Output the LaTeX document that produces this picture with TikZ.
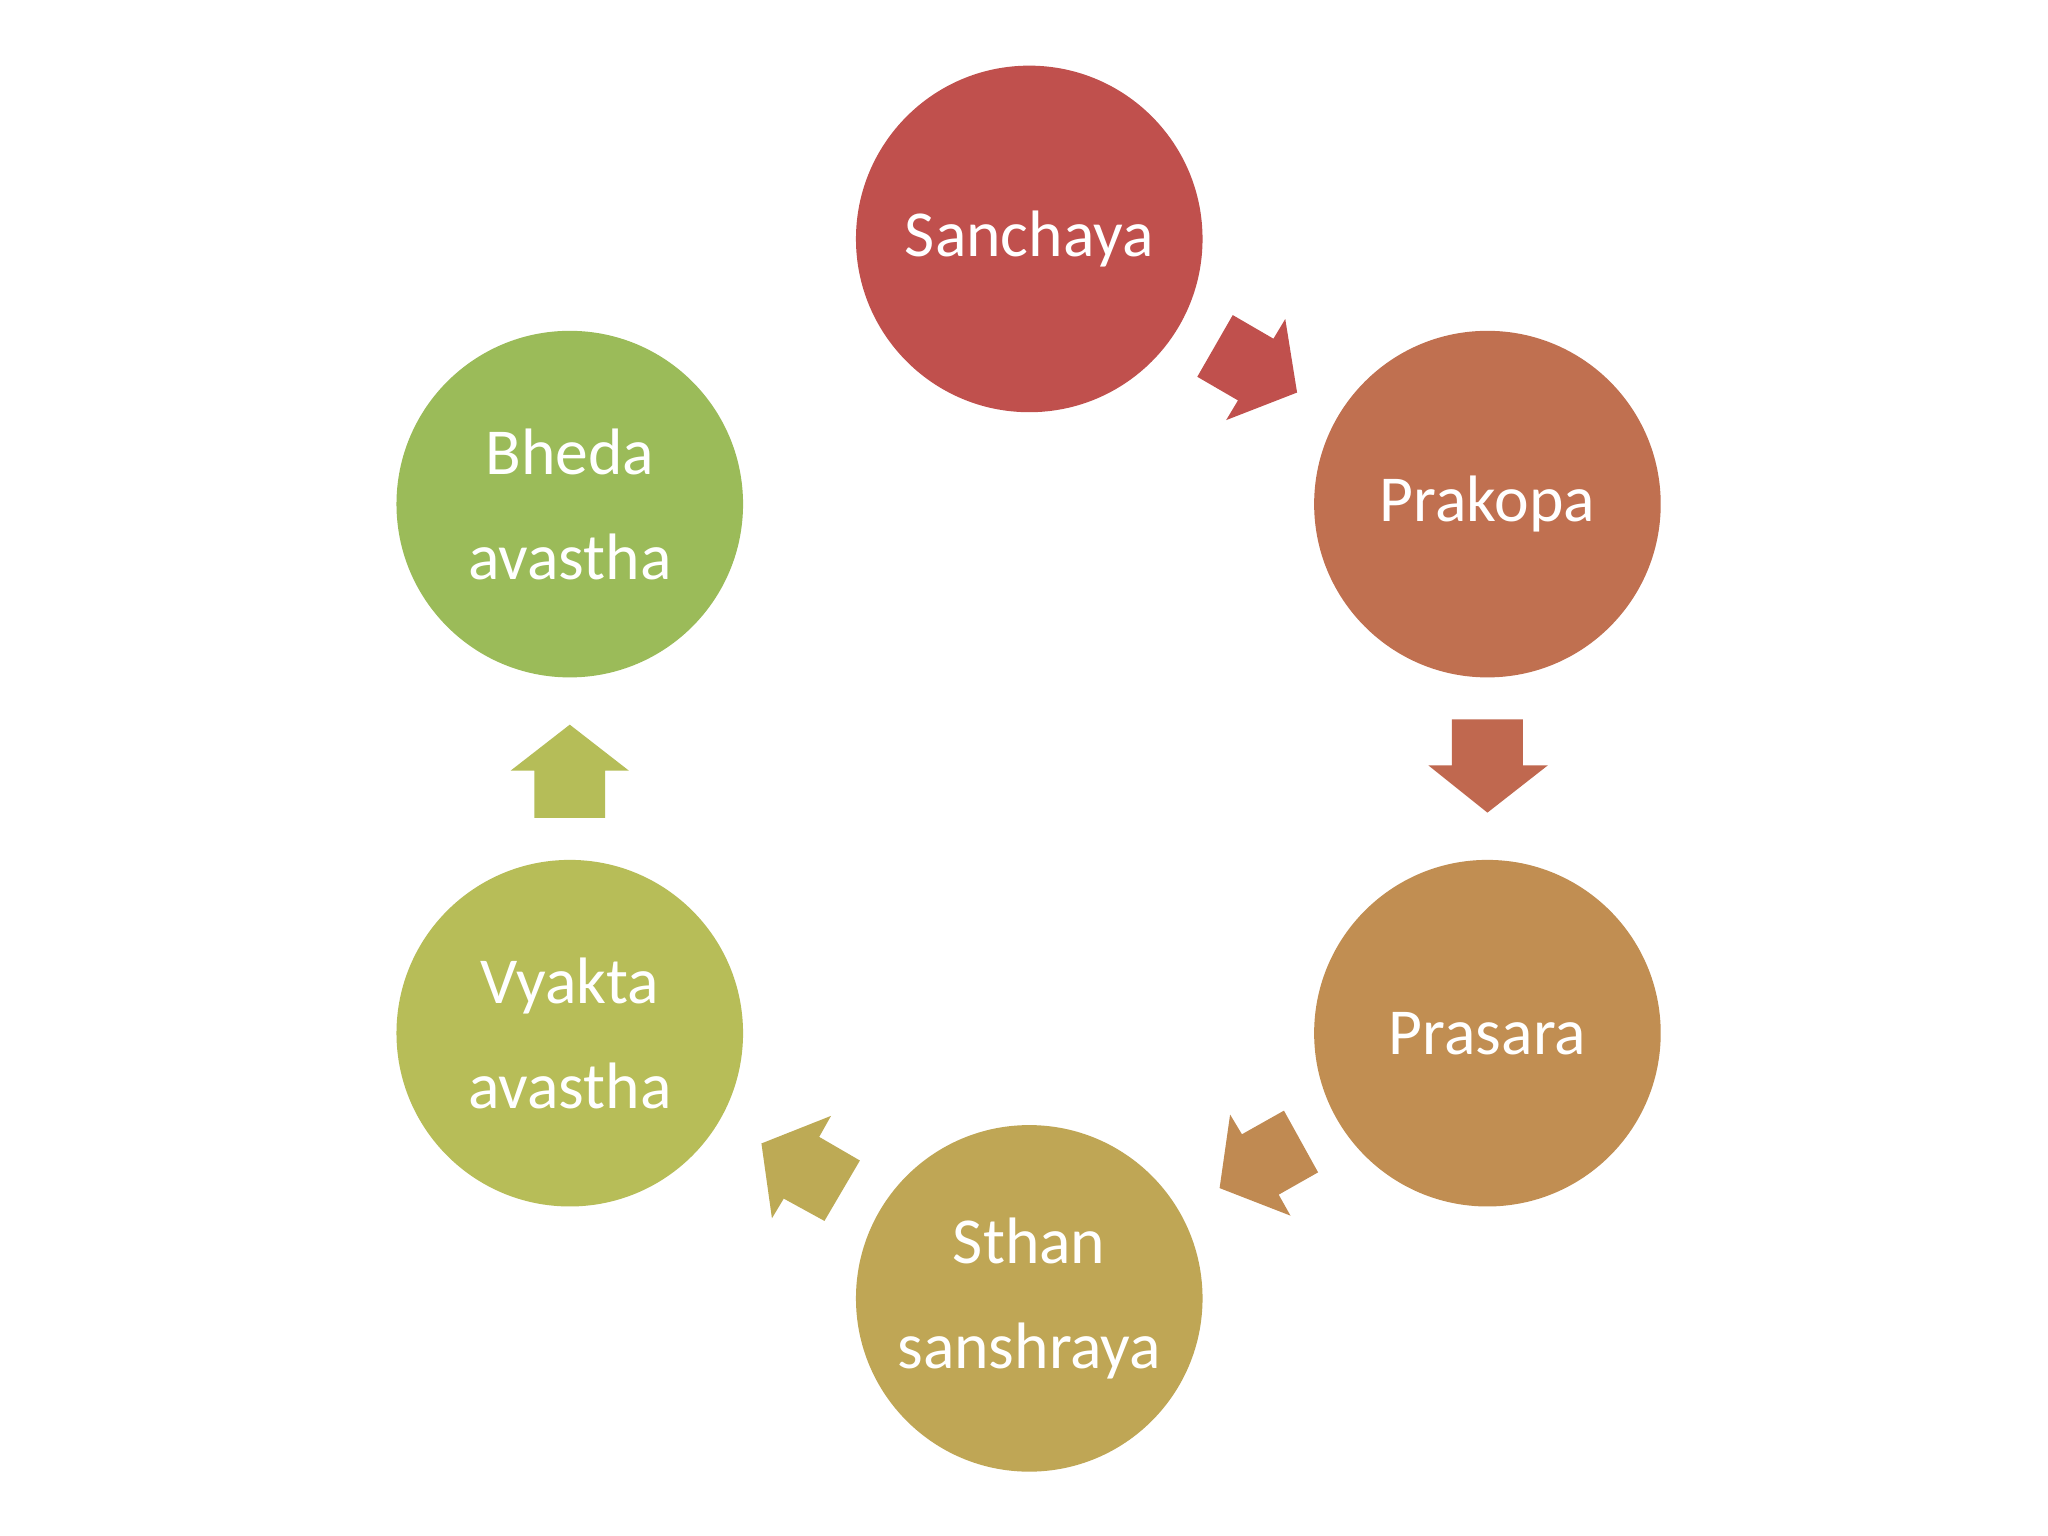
\documentclass[tikz,border=0pt]{standalone}
\usepackage{fontspec}
\setmainfont{Carlito}
\definecolor{c1}{HTML}{C0504D}
\definecolor{c2}{HTML}{C07050}
\definecolor{c3}{HTML}{C18E52}
\definecolor{c4}{HTML}{BFA655}
\definecolor{c5}{HTML}{B7BD58}
\definecolor{c6}{HTML}{9BBB59}
\definecolor{a1}{HTML}{C0504D}
\definecolor{a2}{HTML}{C0684F}
\definecolor{a3}{HTML}{C08A52}
\definecolor{a4}{HTML}{BDAA55}
\definecolor{a5}{HTML}{B5BD58}
\begin{document}
\begin{tikzpicture}[x=0.5pt,y=-0.5pt,
  stage/.style={circle,minimum size=264\pgflinewidth,inner sep=0pt,text=white,align=center,
    font=\fontsize{25}{40}\selectfont, minimum size=132pt},
  blk/.style={draw=none}]
\useasboundingbox (0,0) rectangle (1560,1170);
\fill[white] (0,0) rectangle (1560,1170);
\node[stage,fill=c1] (s1) at (784,182) {Sanchaya};
\node[stage,fill=c2] (s2) at (1133,384) {Prakopa};
\node[stage,fill=c3] (s3) at (1133,787) {Prasara};
\node[stage,fill=c4] (s4) at (784,989) {Sthan\\sanshraya};
\node[stage,fill=c5] (s5) at (434,787) {Vyakta\\avastha};
\node[stage,fill=c6] (s6) at (434,384) {Bheda\\avastha};
\fill[a1] (939,240)--(970,258)--(979,243)--(988,299)--(934,320)--(943,305)--(912,287)--cycle;
\fill[a2] (1106,548)--(1160,548)--(1160,583)--(1179,583)--(1133,619)--(1088,583)--(1106,583)--cycle;
\fill[a3] (946,864)--(978,846)--(1004,893)--(974,910)--(983,926)--(929,905)--(937,849)--cycle;
\fill[a4] (624,866)--(655,884)--(628,930)--(597,913)--(588,928)--(580,871)--(633,850)--cycle;
\fill[a5] (407,623)--(461,623)--(461,587)--(479,587)--(434,552)--(389,587)--(407,587)--cycle;
\end{tikzpicture}
\end{document}
